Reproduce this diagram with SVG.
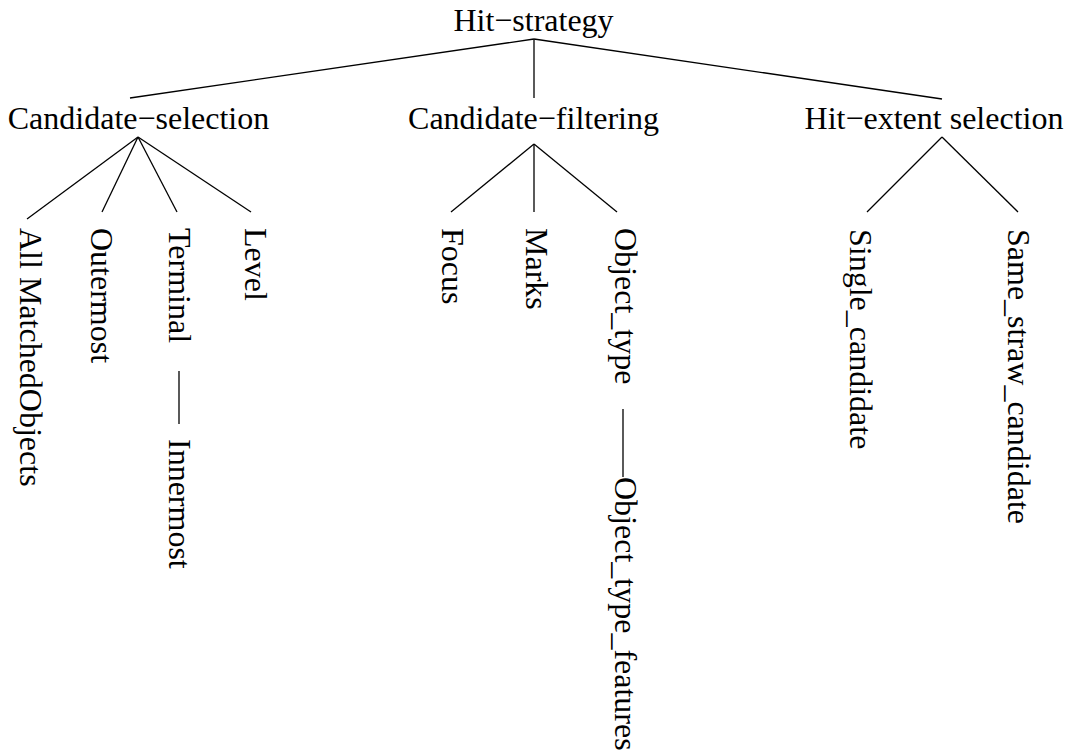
<svg xmlns="http://www.w3.org/2000/svg" width="1066" height="751" viewBox="0 0 1066 751">
<style>
text{font-family:"Liberation Serif","Times New Roman",serif;font-size:32px;fill:#000}
.m{text-anchor:middle}
line{stroke:#000;stroke-width:1.3;fill:none}
</style>
<rect width="1066" height="751" fill="#fff"/>
<g id="connectors">
<line x1="534" y1="39" x2="130" y2="98"/>
<line x1="534" y1="39" x2="534" y2="98"/>
<line x1="534" y1="39" x2="942" y2="99"/>
<line x1="138" y1="137" x2="27" y2="219"/>
<line x1="138" y1="137" x2="102" y2="212"/>
<line x1="138" y1="137" x2="177" y2="212"/>
<line x1="138" y1="137" x2="251" y2="212"/>
<line x1="534" y1="144" x2="451" y2="212"/>
<line x1="534" y1="144" x2="534" y2="212"/>
<line x1="534" y1="144" x2="617" y2="212"/>
<line x1="942" y1="137" x2="867" y2="212"/>
<line x1="942" y1="137" x2="1018" y2="212"/>
<line x1="179" y1="371" x2="179" y2="424"/>
<line x1="623" y1="409" x2="623" y2="477"/>
</g>
<g id="hit-strategy"><text class="m" x="533.5" y="31">Hit−strategy</text></g>
<g id="candidate-selection"><text class="m" x="138.5" y="129">Candidate−selection</text></g>
<g id="candidate-filtering"><text class="m" x="533.5" y="129">Candidate−filtering</text></g>
<g id="hit-extent-selection"><text class="m" x="934" y="129">Hit−extent selection</text></g>
<g id="all-matched-objects"><text transform="translate(20,228) rotate(90)">All MatchedObjects</text></g>
<g id="outermost"><text transform="translate(91,228) rotate(90)">Outermost</text></g>
<g id="terminal"><text transform="translate(169,228) rotate(90)">Terminal</text></g>
<g id="innermost"><text transform="translate(169,439) rotate(90)">Innermost</text></g>
<g id="level"><text transform="translate(245,228) rotate(90)">Level</text></g>
<g id="focus"><text transform="translate(442,228) rotate(90)">Focus</text></g>
<g id="marks"><text transform="translate(526,228) rotate(90)">Marks</text></g>
<g id="object-type"><text transform="translate(615,228) rotate(90)">Object_type</text></g>
<g id="object-type-features"><text transform="translate(615,477) rotate(90)">Object_type_features</text></g>
<g id="single-candidate"><text transform="translate(850,229) rotate(90)">Single_candidate</text></g>
<g id="same-straw-candidate"><text transform="translate(1008,229) rotate(90)">Same_straw_candidate</text></g>
</svg>
